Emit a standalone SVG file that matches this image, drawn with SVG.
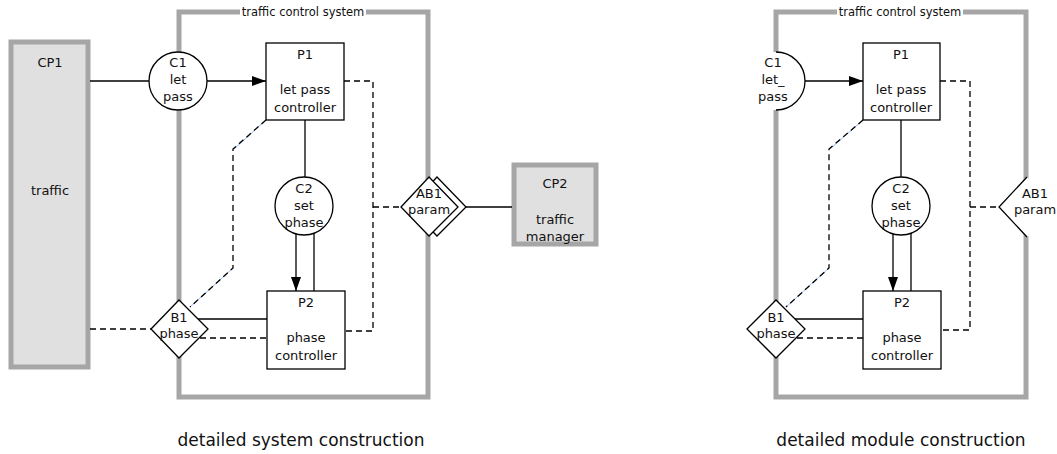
<svg xmlns="http://www.w3.org/2000/svg" width="1057" height="454" viewBox="0 0 1057 454">
<defs>
<marker id="arr" viewBox="0 0 14 10" refX="14" refY="5" markerWidth="14" markerHeight="10" markerUnits="userSpaceOnUse" orient="auto">
<path d="M0,0 L14,5 L0,10 Z" fill="#000"/>
</marker>
<style>
text{font-family:"DejaVu Sans","Verdana",sans-serif;font-size:13px;fill:#111;text-anchor:middle}
.title{font-size:11.5px}
.cap{font-size:17px}
.sys{fill:none;stroke:#a6a6a6;stroke-width:5}
.cp{fill:#e0e0e0;stroke:#a6a6a6;stroke-width:5}
.box{fill:#fff;stroke:#000;stroke-width:1.3}
.ln{fill:none;stroke:#000;stroke-width:1.3}
.dash{fill:none;stroke:#000;stroke-width:1.3;stroke-dasharray:6,4}
.blue{fill:none;stroke:#7aa7ff;stroke-width:0.8}
.wb{fill:#fff;stroke:none}
</style>
</defs>
<rect width="1057" height="454" fill="#fff"/>

<!-- ===== Left: detailed system construction ===== -->
<g id="sys-left">
<rect class="sys" x="179" y="12" width="249" height="385"/>
<rect class="wb" x="240" y="5" width="126" height="14"/>
<text class="title" x="303" y="16">traffic control system</text>
</g>

<g id="CP1">
<rect class="cp" x="11" y="42" width="77" height="325"/>
<text x="50" y="67">CP1</text>
<text x="50" y="195">traffic</text>
</g>

<g id="CP2">
<rect class="cp" x="514" y="165" width="82" height="79"/>
<text x="555" y="188">CP2</text>
<text x="555" y="224">traffic</text>
<text x="555" y="241">manager</text>
</g>

<g id="connectors-left">
<line class="ln" x1="90" y1="81" x2="149" y2="81"/>
<line class="ln" x1="207" y1="81" x2="266" y2="81" marker-end="url(#arr)"/>
<line class="ln" x1="305" y1="120" x2="305" y2="177"/>
<line class="ln" x1="296" y1="234" x2="296" y2="291" marker-end="url(#arr)"/>
<line class="ln" x1="314" y1="233" x2="314" y2="291"/>
<line class="ln" x1="197" y1="319" x2="267" y2="319"/>
<line class="dash" x1="200" y1="338" x2="267" y2="338"/>
<line class="dash" x1="90" y1="329" x2="151" y2="329"/>
<polyline class="dash" points="344,81 373,81 373,331 345,331"/>
<line class="dash" x1="373" y1="207" x2="401" y2="207"/>
<line class="ln" x1="466" y1="207" x2="512" y2="207"/>
<polyline class="blue" points="266,120 234,149"/>
<polyline class="blue" points="233,268 190,307"/>
<polyline class="dash" points="266,120 233,149 233,268 190,307"/>
</g>

<g id="C1">
<circle class="box" cx="178" cy="81" r="29"/>
<text x="178" y="67">C1</text>
<text x="178" y="84">let</text>
<text x="178" y="101">pass</text>
</g>

<g id="P1">
<rect class="box" x="266" y="43" width="78" height="77"/>
<text x="305" y="59">P1</text>
<text x="305" y="94">let pass</text>
<text x="305" y="112">controller</text>
</g>

<g id="C2">
<circle class="box" cx="304" cy="206" r="29"/>
<text x="304" y="193">C2</text>
<text x="304" y="210">set</text>
<text x="304" y="227">phase</text>
</g>

<g id="P2">
<rect class="box" x="267" y="291" width="78" height="78"/>
<text x="306" y="307">P2</text>
<text x="306" y="342">phase</text>
<text x="306" y="360">controller</text>
</g>

<g id="B1">
<polygon class="box" points="151,329 179,300 208,329 179,358"/>
<text x="179" y="322">B1</text>
<text x="179" y="338">phase</text>
</g>

<g id="AB1">
<polygon class="box" points="409,207 437,177 466,207 437,236"/>
<polygon class="box" points="401,207 429,177 458,207 429,236"/>
<text x="429" y="198">AB1</text>
<text x="429" y="214">param</text>
</g>

<text class="cap" x="301" y="446">detailed system construction</text>

<!-- ===== Right: detailed module construction ===== -->
<g id="sys-right">
<rect class="sys" x="776" y="12" width="250" height="385"/>
<rect class="wb" x="837" y="5" width="126" height="14"/>
<text class="title" x="900" y="16">traffic control system</text>
</g>

<g id="connectors-right">
<line class="ln" x1="805" y1="81" x2="863" y2="81" marker-end="url(#arr)"/>
<line class="ln" x1="901" y1="120" x2="901" y2="177"/>
<line class="ln" x1="893" y1="234" x2="893" y2="291" marker-end="url(#arr)"/>
<line class="ln" x1="911" y1="233" x2="911" y2="291"/>
<line class="ln" x1="794" y1="319" x2="863" y2="319"/>
<line class="dash" x1="797" y1="338" x2="863" y2="338"/>
<polyline class="dash" points="940,81 970,81 970,330 941,330"/>
<line class="dash" x1="970" y1="207" x2="999" y2="207"/>
<polyline class="blue" points="863,120 830,149"/>
<polyline class="blue" points="829,268 786,307"/>
<polyline class="dash" points="863,120 829,149 829,268 786,307"/>
</g>

<g id="C1-port">
<circle class="wb" cx="776" cy="81" r="29"/>
<path class="ln" d="M776,52 A29,29 0 0 1 776,110"/>
<text x="773" y="67">C1</text>
<text x="773" y="84">let_</text>
<text x="773" y="101">pass</text>
</g>

<g id="P1-r">
<rect class="box" x="863" y="43" width="77" height="77"/>
<text x="901" y="59">P1</text>
<text x="901" y="94">let pass</text>
<text x="901" y="112">controller</text>
</g>

<g id="C2-r">
<circle class="box" cx="901" cy="206" r="29"/>
<text x="901" y="193">C2</text>
<text x="901" y="210">set</text>
<text x="901" y="227">phase</text>
</g>

<g id="P2-r">
<rect class="box" x="863" y="291" width="78" height="78"/>
<text x="902" y="307">P2</text>
<text x="902" y="342">phase</text>
<text x="902" y="360">controller</text>
</g>

<g id="B1-r">
<polygon class="box" points="747,329 776,300 805,329 776,358"/>
<text x="776" y="322">B1</text>
<text x="776" y="338">phase</text>
</g>

<g id="AB1-port">
<polygon class="wb" points="999,207 1027,177 1057,207 1027,237"/>
<polyline class="ln" points="1027,177 999,207 1027,237"/>
<text x="1035" y="198">AB1</text>
<text x="1035" y="214">param</text>
</g>

<text class="cap" x="901" y="446">detailed module construction</text>
</svg>
